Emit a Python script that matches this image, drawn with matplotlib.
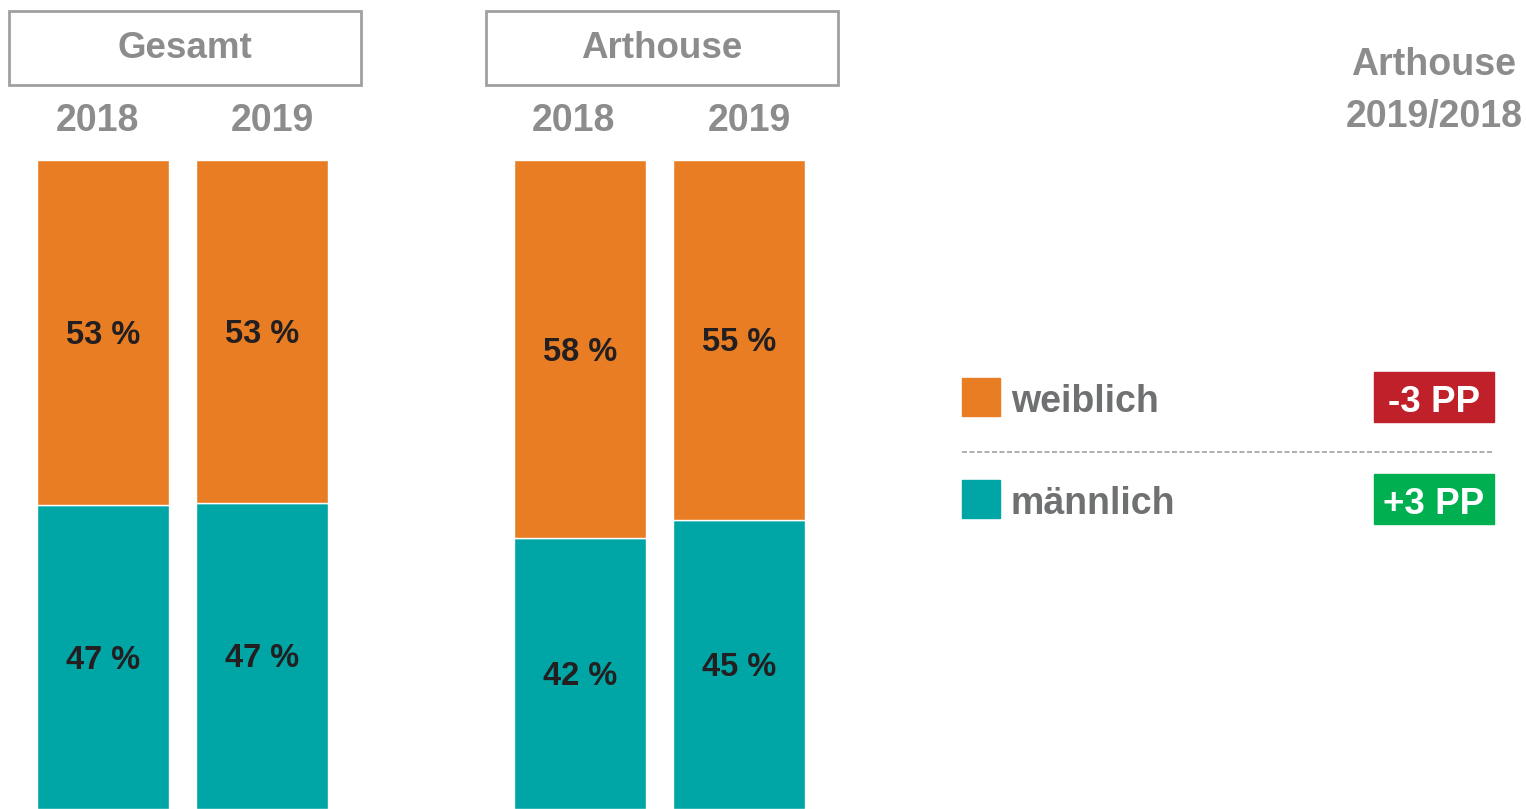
import matplotlib.pyplot as plt
from matplotlib.patches import Rectangle
from matplotlib.lines import Line2D

plt.rcParams['font.family'] = ['Liberation Sans', 'DejaVu Sans']

groups = ['Gesamt', 'Arthouse']
years = ['2018', '2019', '2018', '2019']
maennlich = [46.8, 47.2, 41.7, 44.6]
weiblich = [100 - v for v in maennlich]
labels_w = ['53 %', '53 %', '58 %', '55 %']
labels_m = ['47 %', '47 %', '42 %', '45 %']
legend_names = ['weiblich', 'männlich']
changes = ['-3 PP', '+3 PP']

orange = '#E87D24'
teal = '#00A5A5'
red = '#C0202A'
green = '#00B050'
grey = '#8C8C8C'

W, H = 1526, 809
fig = plt.figure(figsize=(W / 100, H / 100), dpi=100)

def fx(px):
    return px / W

def fy(py):
    return 1 - py / H

# bar axes: top at 160 px, bottom at figure edge
ax = fig.add_axes([0, 0, 1, (H - 160) / H])
pos = [0, 1, 3, 4]
ax.bar(pos, maennlich, width=0.83, color=teal, edgecolor='white', linewidth=1)
ax.bar(pos, weiblich, width=0.83, bottom=maennlich, color=orange, edgecolor='white', linewidth=1)
ax.set_xlim(-103 / 159, (W - 103) / 159)
ax.set_ylim(0, 100)
ax.axis('off')

for i, p in enumerate(pos):
    ax.annotate(labels_w[i], (p, maennlich[i] + weiblich[i] / 2), xytext=(0, -2.2),
                textcoords='offset points', ha='center', va='center',
                fontsize=23.5, fontweight='bold', color='#231F20')
    ax.annotate(labels_m[i], (p, maennlich[i] / 2), xytext=(0, -2.2),
                textcoords='offset points', ha='center', va='center',
                fontsize=23.5, fontweight='bold', color='#231F20')

# year labels above the bars
for yr, xp in zip(years, [97, 272, 573, 749]):
    fig.text(fx(xp), fy(121), yr, ha='center', va='center', fontsize=27,
             fontweight='bold', color=grey)

# header boxes
for g, x0 in zip(groups, [9, 486]):
    fig.patches.append(Rectangle((fx(x0), fy(85)), fx(352), 74 / H, transform=fig.transFigure,
                                 fill=False, edgecolor='#A0A0A0', linewidth=2))
    fig.text(fx(x0 + 176), fy(49), g, ha='center', va='center', fontsize=26.5,
             fontweight='bold', color=grey)

fig.text(fx(1434), fy(65), 'Arthouse', ha='center', va='center', fontsize=27,
         fontweight='bold', color=grey)
fig.text(fx(1434), fy(117), '2019/2018', ha='center', va='center', fontsize=27,
         fontweight='bold', color=grey)

# legend with changes
for name, col, chg, ccol, yc in zip(legend_names, [orange, teal], changes, [red, green], [397, 499]):
    fig.patches.append(Rectangle((fx(962), fy(yc + 19)), fx(38), 38 / H,
                                 transform=fig.transFigure, color=col))
    fig.text(fx(1011), fy(yc + 5), name, ha='left', va='center', fontsize=27,
             fontweight='bold', color='#6F7072')
    fig.patches.append(Rectangle((fx(1374), fy(yc + 25)), fx(120), 50 / H,
                                 transform=fig.transFigure, color=ccol))
    fig.text(fx(1434), fy(yc + 5), chg, ha='center', va='center', fontsize=26.5,
             fontweight='bold', color='white')

fig.lines.append(Line2D([fx(962), fx(1494)], [fy(452), fy(452)], transform=fig.transFigure,
                        color='#A8A0A0', linewidth=1.2, linestyle=(0, (3, 1.5))))

fig.savefig('out.png', dpi=100)
